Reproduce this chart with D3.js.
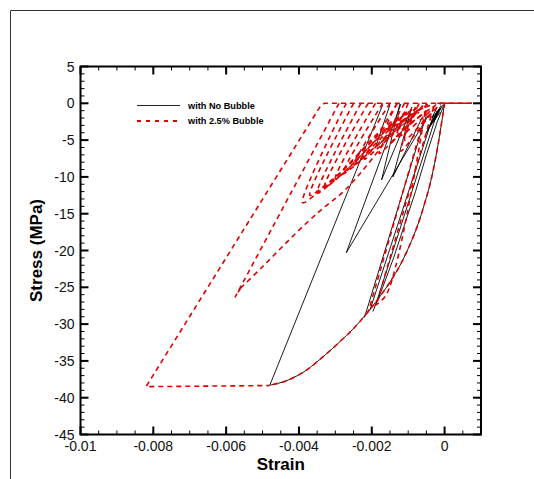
<!DOCTYPE html>
<html><head><meta charset="utf-8">
<script src="https://cdn.jsdelivr.net/npm/d3@7"></script>
<style>body{margin:0;background:#fff}svg{display:block}</style>
</head><body>
<svg id="c" width="534" height="479"></svg>
<script>
// ---------- data ----------
const xTicks = [-0.01, -0.008, -0.006, -0.004, -0.002, 0];
const xTickLabels = ["-0.01", "-0.008", "-0.006", "-0.004", "-0.002", "0"];
const yTicks = [5, 0, -5, -10, -15, -20, -25, -30, -35, -40, -45];
const seriesNames = ["with No Bubble", "with 2.5% Bubble"];

// shared loading envelope (strain, stress MPa)
const envelope = [[0,0],[-0.0001,-3.2],[-0.0002,-6.2],[-0.0003,-8.8],[-0.0004,-11],[-0.0005,-12.8],
  [-0.0007,-16],[-0.0009,-18.6],[-0.0012,-21.8],[-0.0015,-24.3],[-0.0018,-26.4],[-0.002,-27.7],
  [-0.0022,-28.9],[-0.0025,-30.6],[-0.0029,-32.5],[-0.0034,-34.7],[-0.0039,-36.6],[-0.0044,-37.8],[-0.0048,-38.3]];

// no bubble series: polylines
const blackTail = [[-0.0048,-38.3],[-0.0017,-0.2]];
const blackLoops = [
  [[-0.0012,-0.1],[-0.0027,-20.3],[-0.00044,-1.6]],
  [[-0.00123,-0.1],[-0.00173,-10.4],[-0.00096,-1.3]],
  [[-0.0009,-0.5],[-0.00142,-10],[-0.0006,-1.8]],
  [[-0.0005,-1.6],[-0.0022,-29.1]],
  [[-0.0003,-1.5],[-0.00205,-28.1]],
  [[-0.0002,-1.2],[-0.0019,-27.5]],
  [[-0.00197,-28.3],[-0.0017,-25],[-0.0014,-21],[-0.0011,-16.5],[-0.0008,-12],[-0.0005,-7],[-0.0002,-2.5],[0,0]],
  [[-0.0001,-0.3],[-0.0004,-3],[-0.00015,-0.8],[-0.0005,-4],[-0.0002,-1],[-0.0003,-2.5],[-0.00005,-0.2]],
  [[-0.0002,-0.5],[-0.00035,-2],[-0.0001,-0.6],[-0.00045,-3.5],[-0.00012,-1.2]],
  [[-0.0015,-0.2],[-0.0019,-6],[-0.0008,-1.5]]
];

// 2.5% bubble series: polylines
const redMain = [[0.00075,0],[-0.0033,0],[-0.0034,-0.3],[-0.0082,-38.5],[-0.0048,-38.35]];
const redLoopTwo = [[-0.0029,0],[-0.00575,-26.3],[-0.0056,-25.1]];
const redLoopTwoReload = [[-0.0056,-25.1],[-0.005,-22.2],[-0.0044,-19.2],[-0.0038,-16.3],[-0.0033,-14.1],
  [-0.0028,-12.1],[-0.0024,-10],[-0.002,-7.6],[-0.0016,-5.1],[-0.0012,-2.9],[-0.0008,-1.2],[-0.0004,-0.3]];
const redLoops = [
  [[-0.0027,0],[-0.0039,-13.5],[-0.0035,-12.2],[-0.0031,-10.6],[-0.0027,-8.6],[-0.0023,-6.5],[-0.0019,-4.4],[-0.0014,-2.3],[-0.0009,-0.8]],
  [[-0.0025,0],[-0.0037,-12.5],[-0.0034,-11.6],[-0.003,-10],[-0.0026,-8.2],[-0.0022,-6.2],[-0.0018,-4.2],[-0.0013,-2.2],[-0.0009,-0.8]],
  [[-0.0023,0],[-0.0035,-12.2],[-0.0032,-11.2],[-0.0028,-9.5],[-0.0024,-7.6],[-0.002,-5.6],[-0.0016,-3.6],[-0.0012,-1.8]],
  [[-0.0021,0],[-0.0033,-11.4],[-0.0029,-10],[-0.0025,-8.2],[-0.0021,-6.1],[-0.0017,-4.1],[-0.0013,-2.3],[-0.0009,-0.9]],
  [[-0.0019,0],[-0.003,-10.2],[-0.0027,-9.2],[-0.0023,-7.5],[-0.0019,-5.5],[-0.0015,-3.5],[-0.0011,-1.7],[-0.0007,-0.5]],
  [[-0.0017,0],[-0.0028,-9.6],[-0.0025,-8.6],[-0.0021,-6.8],[-0.0017,-4.9],[-0.0013,-3],[-0.0009,-1.4]],
  [[-0.0015,0],[-0.0025,-8.4],[-0.0022,-7.3],[-0.0018,-5.5],[-0.0014,-3.7],[-0.001,-1.9],[-0.0006,-0.5]],
  [[-0.0013,0],[-0.0022,-7.6],[-0.0019,-6.4],[-0.0015,-4.6],[-0.0011,-2.8],[-0.0007,-1.2]],
  [[-0.0005,-1],[-0.0021,-28.4]],
  [[-0.0005,0],[-0.0016,-26],[-0.00196,-27.6]],
  [[-0.0003,-0.5],[-0.00185,-27]],
  [[-0.0013,0],[-0.0016,-3.5],[-0.0009,-1.5],[-0.0004,0]],
  [[-0.001,0],[-0.0013,-4.5],[-0.0006,-2],[-0.0002,0]],
  [[-0.0007,0],[-0.0011,-5],[-0.0004,-1.5],[-0.0001,0]],
  [[-0.0008,-0.5],[-0.0012,-6.5],[-0.0007,-3.5],[-0.0003,-1]],
  [[-0.0006,-0.3],[-0.0015,-5.6],[-0.001,-3],[-0.0003,-0.4]],
  [[-0.0011,0],[-0.0018,-6.8],[-0.0012,-4],[-0.0005,-1]]
];
const redSolidZero = [[-0.0002,0],[0.00075,0]];

// ---------- chart ----------
const svg = d3.select("#c");
const L = 80.5, R = 481, T = 66.5, B = 434.5;
const x = d3.scaleLinear().domain([-0.01, 0.001]).range([L, R]);
const y = d3.scaleLinear().domain([-45, 5]).range([B, T]);
const black = "#000", red = "#e00000";

// outer frame lines
svg.append("line").attr("x1",10.5).attr("y1",10.5).attr("x2",534).attr("y2",10.5).attr("stroke","#333").attr("stroke-width",1);
svg.append("line").attr("x1",10.5).attr("y1",10.5).attr("x2",10.5).attr("y2",479).attr("stroke","#333").attr("stroke-width",1);

const line = d3.line().x(d => x(d[0])).y(d => y(d[1]));
const smooth = d3.line().x(d => x(d[0])).y(d => y(d[1])).curve(d3.curveCatmullRom.alpha(0.5));
const plot = svg.append("g");
svg.append("clipPath").attr("id", "clipP").append("rect").attr("x",L).attr("y",T).attr("width",R-L).attr("height",B-T);
plot.attr("clip-path", "url(#clipP)");

function draw(data, gen, color, w, dash) {
  const p = plot.append("path").datum(data).attr("d", gen)
    .attr("fill","none").attr("stroke",color).attr("stroke-width",w).attr("stroke-linejoin","round");
  if (dash) p.attr("stroke-dasharray", dash);
}

// black series
draw(envelope, smooth, black, 0.9);
draw(blackTail, line, black, 0.9);
blackLoops.forEach(p => draw(p, line, black, 0.9));

// red series
const redDash = "5,4";
draw(redMain, line, red, 1.6, redDash);
draw(envelope, smooth, red, 1.6, redDash);
draw(redLoopTwo, line, red, 1.6, redDash);
draw(redLoopTwoReload, smooth, red, 1.6, redDash);
redLoops.forEach(p => draw(p, smooth, red, 1.6, redDash));
draw(redSolidZero, line, red, 1.6);

// axes
const font = "'Liberation Sans', Arial, sans-serif";
const axisG = svg.append("g");
const xMinor = d3.range(-0.01, 0.00101, 0.0005);
const yMinor = d3.range(-45, 5.01, 1);
function tickLines(vals, len, w) {
  vals.forEach(v => {
    const px = x(v);
    axisG.append("line").attr("x1",px).attr("x2",px).attr("y1",B).attr("y2",B-len).attr("stroke","#000").attr("stroke-width",w);
    axisG.append("line").attr("x1",px).attr("x2",px).attr("y1",T).attr("y2",T+len).attr("stroke","#000").attr("stroke-width",w);
  });
}
function tickLinesY(vals, len, w) {
  vals.forEach(v => {
    const py = y(v);
    axisG.append("line").attr("y1",py).attr("y2",py).attr("x1",L).attr("x2",L+len).attr("stroke","#000").attr("stroke-width",w);
    axisG.append("line").attr("y1",py).attr("y2",py).attr("x1",R).attr("x2",R-len).attr("stroke","#000").attr("stroke-width",w);
  });
}
tickLines(xMinor, 4, 1);
tickLines(xTicks, 8, 2);
tickLinesY(yMinor, 4, 1);
tickLinesY(yTicks, 8, 2);
axisG.append("rect").attr("x",L).attr("y",T).attr("width",R-L).attr("height",B-T)
  .attr("fill","none").attr("stroke","#000").attr("stroke-width",2);

xTicks.forEach((v,i) => axisG.append("text").attr("x",x(v)).attr("y",B+16)
  .attr("text-anchor","middle").attr("font-family",font).attr("font-size",14).attr("fill","#111").text(xTickLabels[i]));
yTicks.forEach(v => axisG.append("text").attr("x",L-6).attr("y",y(v)+5)
  .attr("text-anchor","end").attr("font-family",font).attr("font-size",14).attr("fill","#111").text(String(v)));

svg.append("text").attr("x",(L+R)/2).attr("y",470).attr("text-anchor","middle")
  .attr("font-family",font).attr("font-weight","bold").attr("font-size",17).text("Strain");
svg.append("text").attr("transform",`translate(42,${(T+B)/2}) rotate(-90)`).attr("text-anchor","middle")
  .attr("font-family",font).attr("font-weight","bold").attr("font-size",17).text("Stress (MPa)");

// legend
const lg = svg.append("g");
lg.append("line").attr("x1",137).attr("x2",180).attr("y1",105.5).attr("y2",105.5).attr("stroke","#222").attr("stroke-width",1);
lg.append("line").attr("x1",137).attr("x2",180).attr("y1",121).attr("y2",121).attr("stroke",red).attr("stroke-width",1.8).attr("stroke-dasharray","4,5");
lg.append("text").attr("x",188).attr("y",108.8).attr("font-family",font).attr("font-weight","bold").attr("font-size",9.2).text(seriesNames[0]);
lg.append("text").attr("x",188).attr("y",124.3).attr("font-family",font).attr("font-weight","bold").attr("font-size",9.2).text(seriesNames[1]);
</script>
</body></html>
